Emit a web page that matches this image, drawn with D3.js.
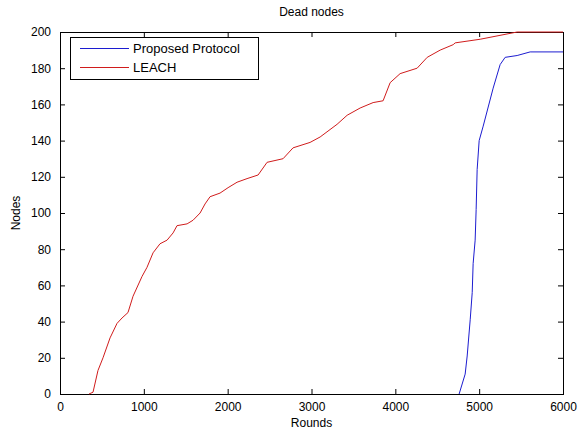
<!DOCTYPE html>
<html>
<head>
<meta charset="utf-8">
<script src="https://cdn.jsdelivr.net/npm/d3@7"></script>
<style>
  html, body { margin: 0; padding: 0; background: #ffffff; }
  svg { display: block; }
  text { font-family: "Liberation Sans", Arial, sans-serif; fill: #000; }
</style>
</head>
<body>
<svg id="chart" width="578" height="434"></svg>
<script>
const chartTitle = "Dead nodes";
const xLabel = "Rounds";
const yLabel = "Nodes";
const seriesNames = ["Proposed Protocol", "LEACH"];
const seriesColors = ["#1c1cd0", "#d01c1c"];

const xTicks = [0, 1000, 2000, 3000, 4000, 5000, 6000];
const yTicks = [0, 20, 40, 60, 80, 100, 120, 140, 160, 180, 200];

const protoRounds = [4761, 4833, 4857, 4893, 4917, 4928, 4952, 4964, 4976, 5000, 5048, 5167, 5250, 5310, 5453, 5608, 6000];
const protoNodes  = [0, 11, 21, 41, 56, 72, 85, 102, 124, 140, 148, 169, 182, 186, 187, 189, 189];

const leachRounds = [346, 394, 453, 513, 597, 680, 740, 811, 871, 979, 1038, 1110, 1193, 1277, 1349, 1396, 1516, 1587, 1671, 1730, 1790, 1909, 2005, 2112, 2231, 2363, 2470, 2661, 2780, 2983, 3103, 3305, 3425, 3580, 3735, 3854, 3938, 4057, 4260, 4380, 4535, 4690, 4714, 5012, 5453, 6000];
const leachNodes  = [0, 1, 13, 20, 31, 39, 42, 45, 54, 65, 70, 78, 83, 85, 89, 93, 94, 96, 100, 105, 109, 111, 114, 117, 119, 121, 128, 130, 136, 139, 142, 149, 154, 158, 161, 162, 172, 177, 180, 186, 190, 193, 194, 196, 200, 200];

const svg = d3.select("#chart");
const L = 60, R = 563, T = 32, B = 394;

const x = d3.scaleLinear().domain([0, 6000]).range([L, R]);
const y = d3.scaleLinear().domain([0, 200]).range([B, T]);

svg.append("rect").attr("x", 0).attr("y", 0).attr("width", 578).attr("height", 434).attr("fill", "#fff");

const tickLen = 5;
const fs = "12px";
const gx = svg.append("g").attr("transform", `translate(0,${B})`)
  .call(d3.axisBottom(x).tickValues(xTicks).tickFormat(d3.format("d")).tickSizeInner(-tickLen).tickSizeOuter(0).tickPadding(8));
const gxt = svg.append("g").attr("transform", `translate(0,${T})`)
  .call(d3.axisTop(x).tickValues(xTicks).tickFormat("").tickSizeInner(-tickLen).tickSizeOuter(0));
const gy = svg.append("g").attr("transform", `translate(${L},0)`)
  .call(d3.axisLeft(y).tickValues(yTicks).tickFormat(d3.format("d")).tickSizeInner(-tickLen).tickSizeOuter(0).tickPadding(9));
const gyr = svg.append("g").attr("transform", `translate(${R},0)`)
  .call(d3.axisRight(y).tickValues(yTicks).tickFormat("").tickSizeInner(-tickLen).tickSizeOuter(0));

[gx, gxt, gy, gyr].forEach(g => {
  g.select(".domain").remove();
  g.selectAll(".tick line").attr("stroke", "#000").attr("stroke-width", 1);
  g.selectAll(".tick text").attr("font-size", fs).attr("font-family", "Liberation Sans, Arial, sans-serif").attr("fill", "#000");
});

svg.append("rect").attr("x", L + 0.5).attr("y", T + 0.5).attr("width", R - L).attr("height", B - T)
  .attr("fill", "none").attr("stroke", "#000").attr("stroke-width", 1);

const line = d3.line().x(d => x(d[0])).y(d => y(d[1]));
const protoData = protoRounds.map((r, i) => [r, protoNodes[i]]);
const leachData = leachRounds.map((r, i) => [r, leachNodes[i]]);

svg.append("path").datum(protoData).attr("d", line)
  .attr("fill", "none").attr("stroke", seriesColors[0]).attr("stroke-width", 1);
svg.append("path").datum(leachData).attr("d", line)
  .attr("fill", "none").attr("stroke", seriesColors[1]).attr("stroke-width", 1);

svg.append("text").attr("x", (L + R) / 2).attr("y", 16).attr("text-anchor", "middle")
  .attr("font-size", fs).text(chartTitle);
svg.append("text").attr("x", (L + R) / 2).attr("y", 427).attr("text-anchor", "middle")
  .attr("font-size", fs).text(xLabel);
svg.append("text").attr("transform", `translate(20,${(T + B) / 2}) rotate(-90)`).attr("text-anchor", "middle")
  .attr("font-size", fs).text(yLabel);

const lg = svg.append("g");
lg.append("rect").attr("x", 70.5).attr("y", 37.5).attr("width", 188).attr("height", 42)
  .attr("fill", "#fff").attr("stroke", "#000").attr("stroke-width", 1);
seriesNames.forEach((name, i) => {
  const yy = 48 + i * 19;
  lg.append("line").attr("x1", 80).attr("x2", 129).attr("y1", yy + 0.5).attr("y2", yy + 0.5)
    .attr("stroke", seriesColors[i]).attr("stroke-width", 1);
  lg.append("text").attr("x", 133).attr("y", yy + 5).attr("font-size", "13px").text(name);
});
</script>
</body>
</html>
